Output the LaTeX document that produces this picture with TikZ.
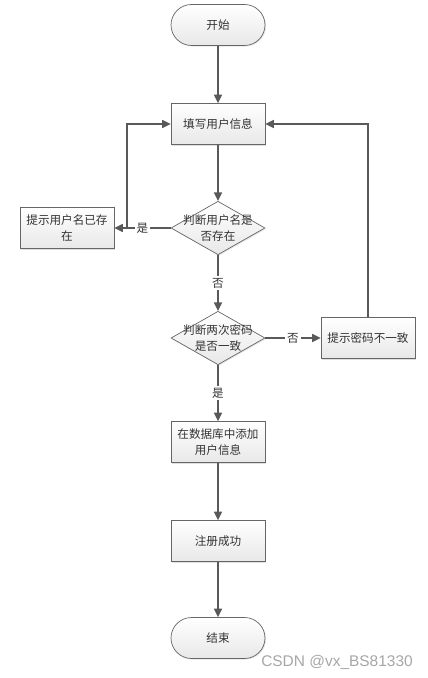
\documentclass[tikz,border=0pt]{standalone}
\usepackage{fontspec}
\setmainfont{Noto Sans CJK SC}
\newfontfamily\markfont{Liberation Sans}
\usetikzlibrary{arrows.meta,shapes.geometric,shadows,positioning}

\begin{document}
\begin{tikzpicture} [x=0.02cm,y=-0.02cm,{term/.style={rectangle,rounded corners=0.41cm,draw=black!60,top color=white,bottom color=gray!18,drop shadow={shadow xshift=0.6pt,shadow yshift=-0.6pt,fill=gray!40},minimum width=1.88cm,minimum height=0.82cm,inner sep=0pt,font=\fontsize{6.6}{8}\selectfont,text=black!80}},{proc/.style={rectangle,draw=black!60,top color=white,bottom color=gray!18,drop shadow={shadow xshift=0.8pt,shadow yshift=-0.8pt,fill=gray!50},minimum width=1.88cm,minimum height=0.82cm,inner sep=0pt,align=center,font=\fontsize{6.6}{9}\selectfont,text=black!80}},{decide/.style={diamond,draw=black!60,top color=white,bottom color=gray!18,drop shadow={shadow xshift=0.6pt,shadow yshift=-0.6pt,fill=gray!40},minimum width=1.88cm,minimum height=1.07cm,inner sep=0pt}},{dtext/.style={align=center,font=\fontsize{6.6}{9}\selectfont,text=black!80,inner sep=0pt}},{linest/.style={draw=black!65,line width=0.8pt,-{Triangle[length=1.7mm,width=1.6mm]}}},{yn/.style={fill=white,inner sep=1pt,font=\fontsize{6.6}{8}\selectfont,text=black!80}}]
	\useasboundingbox (0,0) rectangle (427,678);
	%%nodes of the chart
	\node [term] (start) at (218,25) {开始};
	\node [proc] (fill) at (218,124) {填写用户信息};
	\node [decide] (d1) at (218,228) {};
	\node [dtext] (d1txt) at (d1) {判断用户名是\\否存在};
	\node [proc] (lbox) at (67,228) {提示用户名已存\\在};
	\node [decide] (d2) at (218,338) {};
	\node [dtext] (d2txt) at (d2) {判断两次密码\\是否一致};
	\node [proc] (rbox) at (368,338) {提示密码不一致};
	\node [proc] (db) at (218,442) {在数据库中添加\\用户信息};
	\node [proc] (ok) at (218,541) {注册成功};
	\node [term] (end) at (218,638) {结束};
	\coordinate (lj) at (127,228);
	%%connectors
	\draw [linest] (start) -- (fill);
	\draw [linest] (fill) -- (d1);
	\draw [linest] (d1.west) -- node[yn] {是} (lbox.east);
	\draw [linest] (lj) |- (fill.west);
	\draw [linest] (d1.south) -- node[yn] {否} (d2.north);
	\draw [linest] (d2.east) -- node[yn] {否} (rbox.west);
	\draw [linest] (rbox.north) |- (fill.east);
	\draw [linest] (d2.south) -- node[yn] {是} (db.north);
	\draw [linest] (db) -- (ok);
	\draw [linest] (ok) -- (end);
	%%watermark
	\node [font=\markfont\fontsize{8.8}{10}\selectfont,text=gray!70,inner sep=0pt] (mark) at (337,662) {CSDN @vx\_BS81330};
\end{tikzpicture}
\end{document}
